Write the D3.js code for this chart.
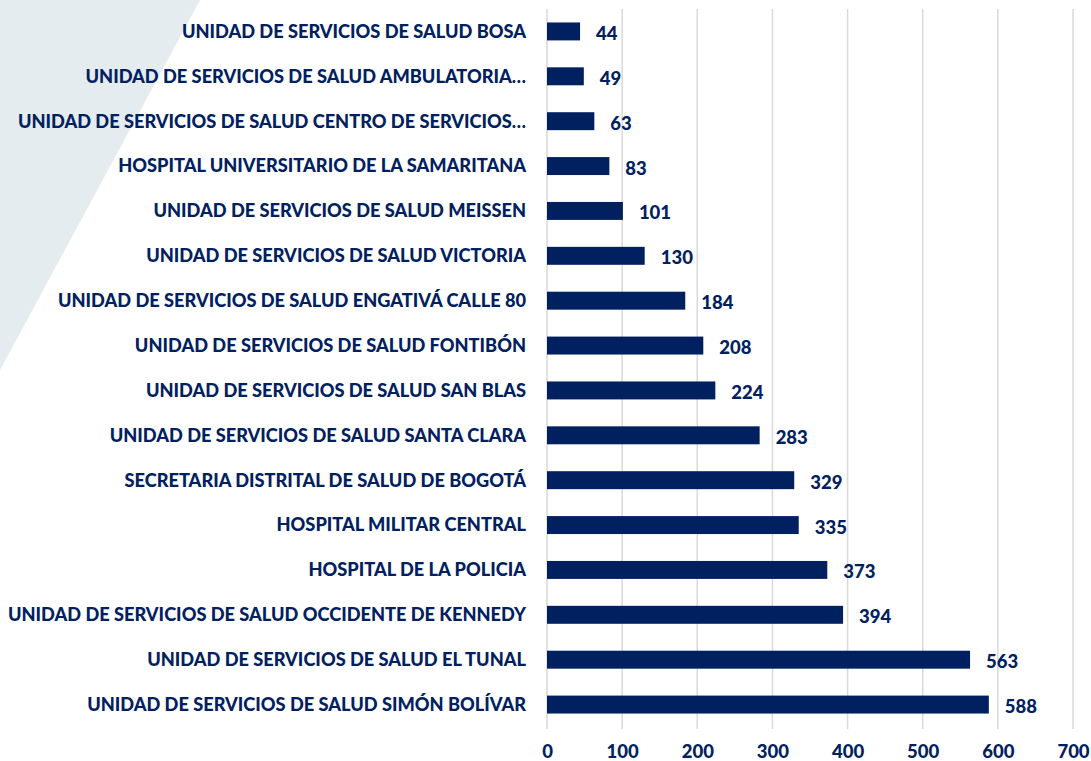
<!DOCTYPE html>
<html>
<head>
<meta charset="utf-8">
<script src="https://cdn.jsdelivr.net/npm/d3@7"></script>
<style>
  body { margin: 0; background: #fff; }
  text { font-family: Lato, "Open Sans", sans-serif; font-weight: 900; fill: #002060; }
</style>
</head>
<body>
<div id="chart"></div>
<script>
// Datos (de arriba hacia abajo)
const categories = [
  "UNIDAD DE SERVICIOS DE SALUD BOSA",
  "UNIDAD DE SERVICIOS DE SALUD AMBULATORIA…",
  "UNIDAD DE SERVICIOS DE SALUD CENTRO DE SERVICIOS…",
  "HOSPITAL UNIVERSITARIO DE LA SAMARITANA",
  "UNIDAD DE SERVICIOS DE SALUD MEISSEN",
  "UNIDAD DE SERVICIOS DE SALUD VICTORIA",
  "UNIDAD DE SERVICIOS DE SALUD ENGATIVÁ CALLE 80",
  "UNIDAD DE SERVICIOS DE SALUD FONTIBÓN",
  "UNIDAD DE SERVICIOS DE SALUD SAN BLAS",
  "UNIDAD DE SERVICIOS DE SALUD SANTA CLARA",
  "SECRETARIA DISTRITAL DE SALUD DE BOGOTÁ",
  "HOSPITAL MILITAR CENTRAL",
  "HOSPITAL DE LA POLICIA",
  "UNIDAD DE SERVICIOS DE SALUD OCCIDENTE DE KENNEDY",
  "UNIDAD DE SERVICIOS DE SALUD EL TUNAL",
  "UNIDAD DE SERVICIOS DE SALUD SIMÓN BOLÍVAR"
];
const values = [44, 49, 63, 83, 101, 130, 184, 208, 224, 283, 329, 335, 373, 394, 563, 588];
const xTicks = [0, 100, 200, 300, 400, 500, 600, 700];

const data = categories.map((c, i) => ({ name: c, value: values[i] }));

const W = 1091, H = 761;
const margin = { top: 9, right: 18, bottom: 34, left: 547 };
const width = W - margin.left - margin.right;
const height = H - margin.top - margin.bottom;

const root = d3.select("#chart").append("svg")
  .attr("width", W)
  .attr("height", H);

// Triángulo decorativo de fondo
root.append("polygon")
  .attr("points", "0,0 200,0 0,370")
  .attr("fill", "#e4ecef");

const svg = root.append("g")
  .attr("transform", `translate(${margin.left},${margin.top})`);

const x = d3.scaleLinear().domain([0, 700]).range([0, 526]);
const y = d3.scaleBand().domain(categories).range([0, height]).paddingInner(0.6).paddingOuter(0.3);

// Líneas de cuadrícula
svg.selectAll(".grid")
  .data(xTicks)
  .enter().append("line")
  .attr("x1", d => x(d)).attr("x2", d => x(d))
  .attr("y1", 0).attr("y2", height + 2)
  .attr("stroke", "#d9d9d9")
  .attr("stroke-width", 1.5);

// Eje X
const xAxis = svg.append("g")
  .attr("transform", `translate(0,${height})`)
  .call(d3.axisBottom(x).tickValues(xTicks).tickSize(0).tickPadding(18));
xAxis.select(".domain").remove();
xAxis.selectAll("text").style("font-size", "18.5px").style("fill", "#002060").attr("font-family", null);

// Etiquetas de categorías
svg.selectAll(".cat")
  .data(data)
  .enter().append("text")
  .attr("x", -21)
  .attr("y", d => y(d.name) + y.bandwidth() / 2)
  .attr("dy", "0.35em")
  .attr("text-anchor", "end")
  .style("font-size", "18.2px")
  .text(d => d.name);

// Barras
svg.selectAll(".bar")
  .data(data)
  .enter().append("rect")
  .attr("x", x(0))
  .attr("y", d => y(d.name))
  .attr("width", d => x(d.value))
  .attr("height", y.bandwidth())
  .attr("fill", "#002060");

// Valores
svg.selectAll(".val")
  .data(data)
  .enter().append("text")
  .attr("x", d => x(d.value) + 16)
  .attr("y", d => y(d.name) + y.bandwidth() / 2 + 2)
  .attr("dy", "0.35em")
  .style("font-size", "18.5px")
  .text(d => d.value);
</script>
</body>
</html>
